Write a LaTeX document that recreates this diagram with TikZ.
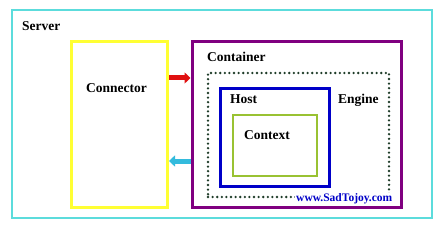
\documentclass[tikz,border=0pt]{standalone}
\usepackage{fontspec}
\setmainfont{Liberation Serif}
\usetikzlibrary{arrows.meta}
\definecolor{servercyan}{HTML}{5CDCDC}
\definecolor{connyellow}{HTML}{FFFF33}
\definecolor{contpurple}{HTML}{800080}
\definecolor{hostblue}{HTML}{0000C8}
\definecolor{ctxgreen}{HTML}{99C232}
\definecolor{enginedots}{HTML}{1E3C28}
\definecolor{inred}{HTML}{E01010}
\definecolor{outcyan}{HTML}{33BBDD}
\begin{document}
\begin{tikzpicture}[x=1pt,y=-1pt, every node/.style={font=\fontsize{13.5}{15}\selectfont\bfseries},
  box/.style={draw, inner sep=0pt, minimum width=#1},
  label/.style={anchor=west, inner sep=0pt},
  flow/.style={line width=5pt, -{Triangle[length=6pt,width=11pt]}}]
\useasboundingbox (0,0) rectangle (445,230);
\fill[white] (0,0) rectangle (445,230);
\node[box=420, minimum height=208, draw=servercyan, line width=1.5pt] (server) at (222,114) {};
\node[box=96, minimum height=166, draw=connyellow, line width=3pt] (conn) at (119.5,124.5) {};
\node[box=209, minimum height=165, draw=contpurple, line width=3pt] (cont) at (296.5,124.5) {};
\node[box=181, minimum height=124, draw=enginedots, line width=2.6pt, line cap=round, dash pattern=on 0pt off 4.6pt] (engine) at (298.5,135) {};
\node[box=109, minimum height=97, draw=hostblue, line width=3pt] (host) at (274.5,137.5) {};
\node[box=84, minimum height=61, draw=ctxgreen, line width=2pt] (ctx) at (275,145.5) {};
\node[label] (serverlbl) at (22,26) {Server};
\node[label] (connlbl) at (86,88) {Connector};
\node[label] (contlbl) at (207,57) {Container};
\node[label] (enginelbl) at (338,100) {Engine};
\node[label] (hostlbl) at (230,99) {Host};
\node[label] (ctxlbl) at (244,135) {Context};
\node[label, fill=white, inner sep=1pt, text=hostblue, font=\fontsize{11.5}{13}\selectfont\bfseries] (site) at (295,199) {www.SadTojoy.com};
% request and response
\draw[flow, inred] (conn.east |- 0,78) -- (cont.west |- 0,78);
\draw[flow, outcyan] (cont.west |- 0,161) -- (conn.east |- 0,161);
\end{tikzpicture}
\end{document}
